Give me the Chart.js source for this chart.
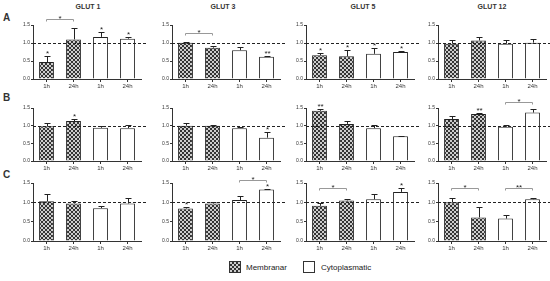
<!DOCTYPE html>
<html>
<head>
<meta charset="utf-8">
<script src="https://cdn.jsdelivr.net/npm/chart.js@4.4.0/dist/chart.umd.min.js"></script>
<style>
  body { margin:0; width:550px; height:281px; background:#fff; position:relative; overflow:hidden;
         font-family:"Liberation Sans", Arial, sans-serif; color:#333; }
  canvas { position:absolute; }
  .title { position:absolute; font-weight:bold; font-size:7px; transform:translateX(-50%); white-space:nowrap; }
  .row   { position:absolute; font-weight:bold; font-size:10px; }
  .lbox  { position:absolute; width:12px; height:12px; border:1px solid #333; box-sizing:border-box; }
  .ltxt  { position:absolute; font-size:8px; color:#222; }
</style>
</head>
<body>
<div class="row" style="left:3px;top:12px">A</div>
<div class="row" style="left:3px;top:92px">B</div>
<div class="row" style="left:3px;top:169px">C</div>

<div class="lbox" style="left:229px;top:261px;background:repeating-conic-gradient(#333 0 25%,#ccc 0 50%) 0 0/4px 4px"></div>
<div class="ltxt" style="left:246px;top:263px">Membranar</div>
<div class="lbox" style="left:303px;top:261px;background:#fff"></div>
<div class="ltxt" style="left:321px;top:263px">Cytoplasmatic</div>

<script>
/* ── Data ─────────────────────────────────────────────────────────── */
const categories = ['1h', '24h', '1h', '24h'];
const genes      = ['GLUT 1', 'GLUT 3', 'GLUT 5', 'GLUT 12'];
const yTicks     = [0, 0.5, 1.0, 1.5];

// one entry per gene: [Membranar 1h, Membranar 24h, Cytoplasmatic 1h, Cytoplasmatic 24h]
const rowAMean = [[0.47, 1.10, 1.17, 1.12], [1.01, 0.87, 0.80, 0.62], [0.66, 0.63, 0.70, 0.75], [0.98, 1.07, 0.98, 1.01]];
const rowAErr  = [[0.16, 0.33, 0.13, 0.06], [0.01, 0.06, 0.10, 0.02], [0.07, 0.18, 0.15, 0.03], [0.10, 0.11, 0.09, 0.09]];
const rowAStars = [['*', '', '*', '*'], ['', '', '', '**'], ['*', '*', '*', '*'], ['', '', '', '']];
const rowABrackets = [[[0, 1, 1.68, '*']], [[0, 1, 1.28, '*']], [], []];

const rowBMean = [[0.98, 1.13, 0.94, 0.93], [1.00, 1.00, 0.93, 0.66], [1.42, 1.05, 0.93, 0.70], [1.19, 1.33, 0.97, 1.37]];
const rowBErr  = [[0.10, 0.05, 0.06, 0.09], [0.07, 0.02, 0.02, 0.16], [0.05, 0.09, 0.08, 0.02], [0.09, 0.03, 0.04, 0.10]];
const rowBStars = [['', '*', '', ''], ['', '', '', '*'], ['**', '', '', ''], ['', '**', '', '']];
const rowBBrackets = [[], [], [], [[2, 3, 1.66, '*']]];

const rowCMean = [[1.03, 0.97, 0.85, 0.97], [0.84, 0.97, 1.06, 1.33], [0.91, 1.05, 1.08, 1.27], [1.00, 0.61, 0.58, 1.08]];
const rowCErr  = [[0.18, 0.07, 0.06, 0.13], [0.04, 0.03, 0.10, 0.01], [0.07, 0.03, 0.14, 0.11], [0.12, 0.26, 0.08, 0.02]];
const rowCStars = [['', '', '', ''], ['*', '', '', '*'], ['', '', '', '*'], ['', '', '', '']];
const rowCBrackets = [[], [[2, 3, 1.58, '*']], [[0, 1, 1.36, '*']], [[0, 1, 1.37, '*'], [2, 3, 1.37, '**']]];

/* ── Layout ───────────────────────────────────────────────────────── */
const axisX   = [33, 172, 306, 438];
const titleX  = [88, 223, 363, 492];
const rowTop  = [25, 108, 183];   // pixel of 1.5
const rowBot  = [79, 161, 241];   // pixel of 0.0
const PAD_TOP = 22, AXIS_W = 20, AXIS_H = 14, PLOT_W = 108, PAD_R = 8;

// checkerboard fill for membranar bars
function checker() {
  const c = document.createElement('canvas');
  c.width = 4; c.height = 4;
  const g = c.getContext('2d');
  g.fillStyle = '#ccc'; g.fillRect(0, 0, 4, 4);
  g.fillStyle = '#333'; g.fillRect(0, 0, 2, 2); g.fillRect(2, 2, 2, 2);
  return g.createPattern(c, 'repeat');
}

// title divs
genes.forEach(function(g, i) {
  const d = document.createElement('div');
  d.className = 'title';
  d.style.left = titleX[i] + 'px';
  d.style.top = '3px';
  d.textContent = g;
  document.body.appendChild(d);
});

function makePanel(r, c, mean, err, stars, brackets) {
  const cv = document.createElement('canvas');
  const h = PAD_TOP + (rowBot[r] - rowTop[r]) + AXIS_H;
  const w = AXIS_W + PLOT_W + PAD_R;
  cv.width = w; cv.height = h;
  cv.style.left = (axisX[c] - AXIS_W) + 'px';
  cv.style.top  = (rowTop[r] - PAD_TOP) + 'px';
  document.body.appendChild(cv);
  const pat = checker();

  const marks = {
    id: 'marks',
    afterDatasetsDraw: function(chart) {
      const ctx = chart.ctx, ys = chart.scales.y, a = chart.chartArea;
      const bars = chart.getDatasetMeta(0).data;
      ctx.save();
      // reference line at 1.0
      ctx.strokeStyle = '#222'; ctx.lineWidth = 1; ctx.setLineDash([3, 2]);
      const y1 = Math.round(ys.getPixelForValue(1)) + 0.5;
      ctx.beginPath(); ctx.moveTo(a.left, y1); ctx.lineTo(a.right + 6, y1); ctx.stroke();
      ctx.setLineDash([]);
      // error bars + stars
      ctx.font = '8px "Liberation Sans", Arial';
      ctx.textAlign = 'center'; ctx.textBaseline = 'alphabetic';
      bars.forEach(function(b, i) {
        const x = Math.round(b.x) + 0.5;
        const top = ys.getPixelForValue(mean[i]);
        const et = Math.round(ys.getPixelForValue(mean[i] + err[i])) + 0.5;
        ctx.strokeStyle = '#222';
        ctx.beginPath();
        ctx.moveTo(x, top); ctx.lineTo(x, et);
        ctx.moveTo(x - 3, et); ctx.lineTo(x + 3, et);
        ctx.stroke();
        if (stars[i]) { ctx.fillStyle = '#222'; ctx.fillText(stars[i], x, et - 1); }
      });
      // significance brackets
      brackets.forEach(function(br) {
        const x0 = bars[br[0]].x, x1 = bars[br[1]].x;
        const y = Math.round(ys.getPixelForValue(br[2])) + 0.5;
        ctx.strokeStyle = '#999';
        ctx.beginPath();
        ctx.moveTo(x0, y + 2); ctx.lineTo(x0, y); ctx.lineTo(x1, y); ctx.lineTo(x1, y + 2);
        ctx.stroke();
        ctx.fillStyle = '#222';
        ctx.fillText(br[3], (x0 + x1) / 2, y + 1);
      });
      ctx.restore();
    }
  };

  new Chart(cv, {
    type: 'bar',
    data: {
      labels: categories,
      datasets: [{
        data: mean,
        backgroundColor: [pat, pat, '#fff', '#fff'],
        borderColor: '#222',
        borderWidth: 1,
        barPercentage: 0.55,
        categoryPercentage: 1
      }]
    },
    options: {
      responsive: false,
      animation: false,
      layout: { padding: { top: PAD_TOP, right: PAD_R, left: 0, bottom: 0 } },
      plugins: { legend: { display: false }, tooltip: { enabled: false } },
      scales: {
        x: {
          grid: { drawOnChartArea: false, offset: false, tickLength: 3, color: '#333' },
          border: { color: '#333' },
          ticks: { font: { size: 6, family: '"Liberation Sans", Arial' }, color: '#333', padding: 1, maxRotation: 0 },
          afterFit: function(s) { s.height = AXIS_H; }
        },
        y: {
          min: yTicks[0], max: yTicks[yTicks.length - 1],
          afterBuildTicks: function(s) { s.ticks = yTicks.map(function(v) { return { value: v }; }); },
          ticks: { font: { size: 5, family: '"Liberation Sans", Arial' }, color: '#333', padding: 1,
                   callback: function(v) { return v.toFixed(1); } },
          grid: { drawOnChartArea: false, tickLength: 2, color: '#333' },
          border: { color: '#333' },
          afterFit: function(s) { s.width = AXIS_W; }
        }
      }
    },
    plugins: [marks]
  });
}

const allMean  = [rowAMean, rowBMean, rowCMean];
const allErr   = [rowAErr, rowBErr, rowCErr];
const allStars = [rowAStars, rowBStars, rowCStars];
const allBr    = [rowABrackets, rowBBrackets, rowCBrackets];
for (let r = 0; r < 3; r++)
  for (let c = 0; c < 4; c++)
    makePanel(r, c, allMean[r][c], allErr[r][c], allStars[r][c], allBr[r][c]);
</script>
</body>
</html>
